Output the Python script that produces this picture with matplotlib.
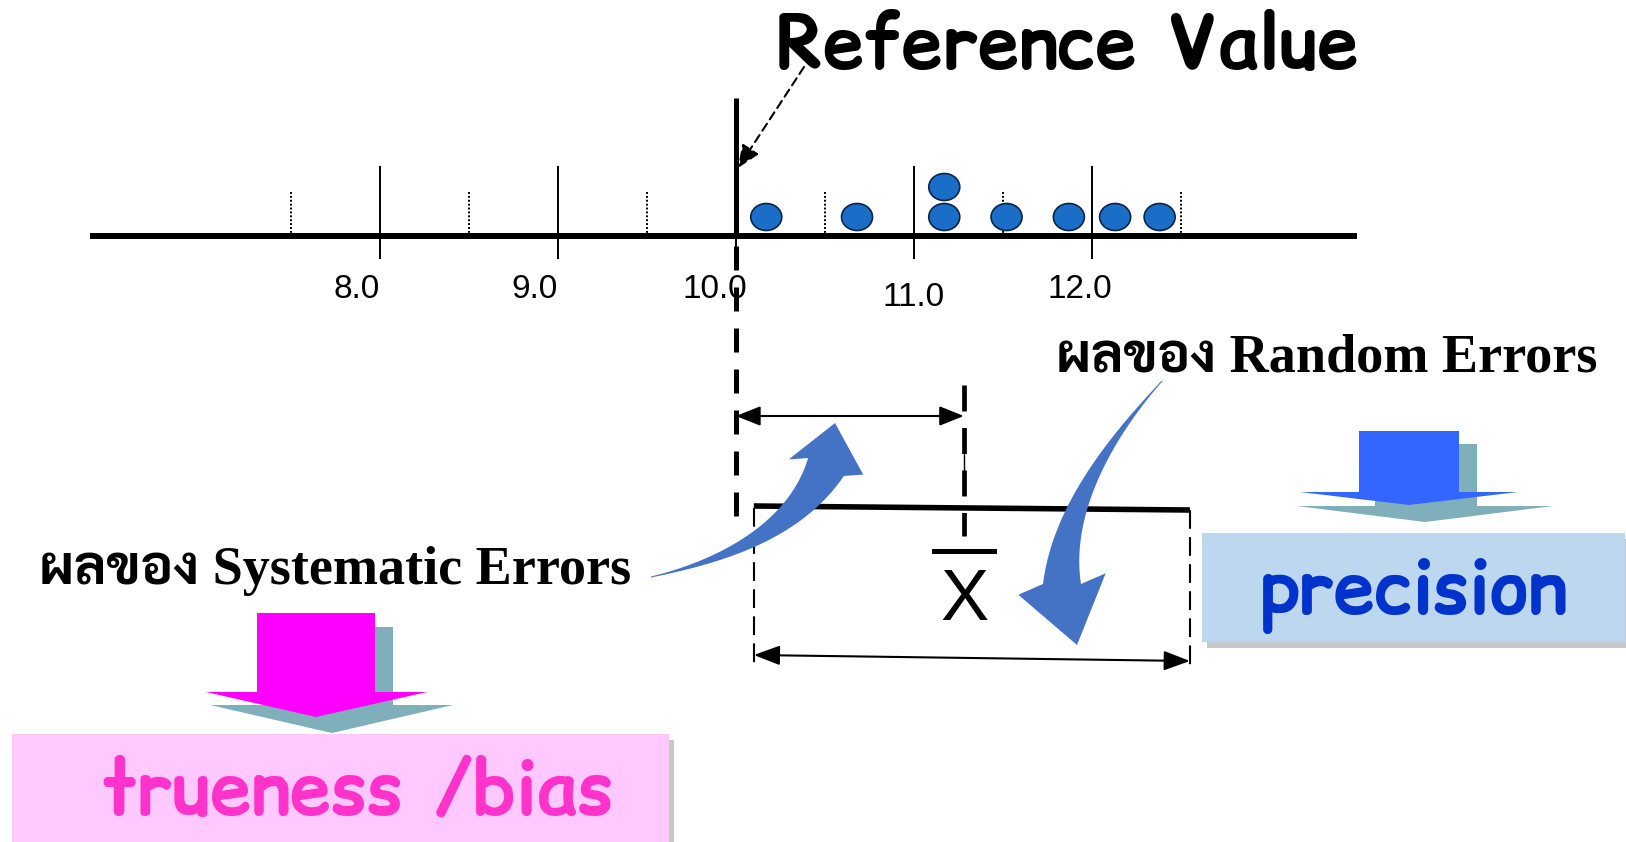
import numpy as np
import matplotlib
matplotlib.use("Agg")
import matplotlib.pyplot as plt
from matplotlib.patches import Polygon, Rectangle, Ellipse

# number line
major_ticks = [8.0, 9.0, 10.0, 11.0, 12.0]
tick_labels = ["8.0", "9.0", "10.0", "11.0", "12.0"]
minor_ticks = [7.5, 8.5, 9.5, 10.5, 11.5, 12.5]

# measured results (the two readings near 11.2 are stacked)
results = [10.17, 10.68, 11.17, 11.17, 11.52, 11.87, 12.13, 12.38]
stack_level = [0, 0, 0, 1, 0, 0, 0, 0]

reference_value = 10.0
mean_value = 11.28
spread_low, spread_high = 10.10, 12.55
line_start, line_end = 6.37, 13.49

W, H = 1626, 842
PX_PER_UNIT = 178.0
X_REF = 736  # pixel column of the reference value

COMIC = "Comic Relief"
LABEL_FONT = ["Liberation Serif", "Sarabun"]  # latin serif, thai fallback

fig = plt.figure(figsize=(W / 100, H / 100), dpi=100)
ax = fig.add_axes([0, 0, 1, 1])  # values on x, pixels on y
ax.set_xlim(reference_value - X_REF / PX_PER_UNIT, reference_value + (W - X_REF) / PX_PER_UNIT)
ax.set_ylim(H, 0)
ax.axis("off")

deco = fig.add_axes([0, 0, 1, 1])  # plain pixel coordinates
deco.set_xlim(0, W)
deco.set_ylim(H, 0)
deco.axis("off")
deco.patch.set_alpha(0)

# ---- number line
ax.plot([line_start, line_end], [236, 236], color="black", lw=4.3, solid_capstyle="butt")
ax.vlines(major_ticks, 166, 259, color="black", lw=1.4)
ax.vlines(minor_ticks, 192, 236, color="black", lw=1.4, linestyles=(0, (1, 1)))
label_pos = [7.87, 8.87, 9.88, 11.0, 11.93]
label_y = [290, 290, 290, 298, 290]
for p, yy, t in zip(label_pos, label_y, tick_labels):
    ax.text(p, yy, t, ha="center", va="center", fontsize=24, family="Liberation Sans")

for v, lvl in zip(results, stack_level):
    ax.add_patch(Ellipse((v, 217 - 30 * lvl), width=31 / PX_PER_UNIT, height=27,
                         fc="#1a6ec8", ec="#0b2545", lw=1.2, zorder=3))

# reference value line
ax.plot([reference_value] * 2, [98, 236], color="black", lw=3.6, solid_capstyle="butt")
ax.plot([reference_value] * 2, [246, 525], color="black", lw=3.6, ls=(0, (4.8, 3.4)))

# mean line
ax.plot([mean_value] * 2, [385, 536], color="black", lw=3.4, ls=(0, (5.5, 3.5)))
ax.plot([mean_value] * 2, [450, 494], color="black", lw=1.0)
ax.annotate("", xy=(reference_value, 416), xytext=(mean_value, 416),
            arrowprops=dict(arrowstyle="<|-|>,head_length=0.75,head_width=0.3",
                            color="black", lw=1.5, mutation_scale=20, shrinkA=0, shrinkB=0))

# spread of results
ax.plot([spread_low, spread_high], [506, 510], color="black", lw=4.0, solid_capstyle="butt")
ax.plot([spread_low] * 2, [508, 666], color="black", lw=1.5, ls=(0, (9, 4)))
ax.plot([spread_high] * 2, [510, 666], color="black", lw=1.5, ls=(0, (9, 4)))
ax.annotate("", xy=(spread_low, 655), xytext=(spread_high, 661),
            arrowprops=dict(arrowstyle="<|-|>,head_length=0.8,head_width=0.3",
                            color="black", lw=1.5, mutation_scale=20, shrinkA=0, shrinkB=0))

# ---- decorations (pixel coordinates)
deco.text(1067, 68, "Reference Value", ha="center", va="baseline", fontsize=53,
          fontweight="bold", family=COMIC)
deco.annotate("", xy=(738, 168), xytext=(804, 67),
              arrowprops=dict(arrowstyle="-|>,head_length=0.7,head_width=0.3", color="black",
                              lw=1.5, ls=(0, (4, 2.5)), mutation_scale=20, shrinkA=0, shrinkB=0))

deco.plot([934, 994], [551, 551], color="black", lw=3.6)
deco.text(964, 601, "X", ha="center", va="center", fontsize=52, family="Liberation Sans")


def curved_arrow(p0, p1, p2, tip, w_end, head_w, color):
    p0, p1, p2, tip = (np.asarray(p, float) for p in (p0, p1, p2, tip))
    t = np.linspace(0, 1, 80)[:, None]
    pts = (1 - t) ** 2 * p0 + 2 * (1 - t) * t * p1 + t ** 2 * p2
    d = 2 * (1 - t) * (p1 - p0) + 2 * t * (p2 - p1)
    n = np.column_stack([-d[:, 1], d[:, 0]]) / np.linalg.norm(d, axis=1)[:, None]
    half = (1.0 + (w_end - 1.0) * t[:, 0] ** 1.4) / 2
    left = pts + n * half[:, None]
    right = pts - n * half[:, None]
    hd = (tip - p2) / np.linalg.norm(tip - p2)
    hn = np.array([-hd[1], hd[0]])
    poly = np.vstack([left, p2 + hn * head_w / 2, tip, p2 - hn * head_w / 2, right[::-1]])
    deco.add_patch(Polygon(poly, closed=True, fc=color, ec="none", zorder=5))


curved_arrow((651, 577), (786, 547), (826, 467), (835, 423), 40, 76, "#4472C4")
curved_arrow((1162, 381), (1062, 491), (1062, 584), (1077, 645), 38, 90, "#4472C4")


def block_arrow(x0, x1, top, neck, hx0, hx1, tip, color):
    pts = [(x0, top), (x1, top), (x1, neck), (hx1, neck), tip, (hx0, neck), (x0, neck)]
    deco.add_patch(Polygon(pts, closed=True, fc=color, ec="none"))


block_arrow(275, 393, 627, 705, 210, 453, (332, 733), "#7FAFBA")
block_arrow(257, 375, 613, 692, 206, 427, (316, 717), "#FF00FF")
block_arrow(1375, 1477, 444, 506, 1297, 1553, (1425, 522), "#7FAFBA")
block_arrow(1359, 1459, 431, 492, 1300, 1518, (1409, 505), "#3366FF")

# result boxes
deco.add_patch(Rectangle((17, 740), 657, 110, fc="#c8c8c8", ec="none"))
deco.add_patch(Rectangle((12, 734), 657, 110, fc="#FFC8FF", ec="none"))
deco.text(358, 814, "trueness /bias", ha="center", va="baseline", fontsize=53,
          fontweight="bold", color="#FF33CC", family=COMIC)

deco.add_patch(Rectangle((1207, 539), 423, 109, fc="#c8c8c8", ec="none"))
deco.add_patch(Rectangle((1202, 533), 423, 109, fc="#BDD7EE", ec="none"))
deco.text(1414, 613, "precision", ha="center", va="baseline", fontsize=53,
          fontweight="bold", color="#0033CC", family=COMIC)

deco.text(39, 584, "ผลของ Systematic Errors", ha="left", va="baseline", fontsize=39,
          fontweight="bold", family=LABEL_FONT)
deco.text(1597, 371, "ผลของ Random Errors", ha="right", va="baseline", fontsize=39,
          fontweight="bold", family=LABEL_FONT)

fig.savefig("out.png", dpi=100)
